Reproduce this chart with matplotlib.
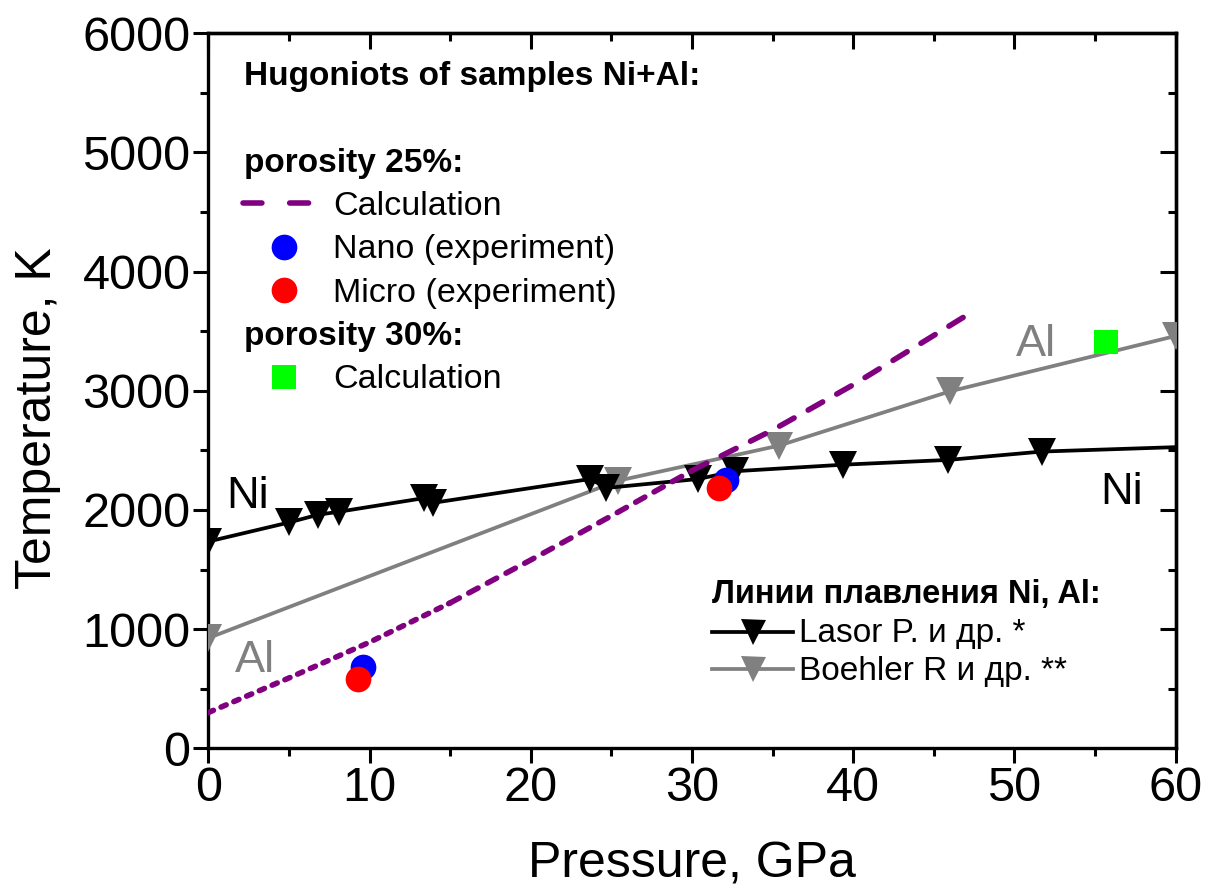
import matplotlib
matplotlib.use("Agg")
import matplotlib.pyplot as plt
from matplotlib.lines import Line2D
import numpy as np

plt.rcParams['font.family'] = ['Liberation Sans', 'DejaVu Sans']

# ---------------- data ----------------
# Hugoniot calculation, porosity 25 %
calc25_P = [0, 5, 10, 15, 20, 25, 30, 35, 40, 47]
calc25_T = [300, 590, 890, 1220, 1580, 1950, 2330, 2670, 3050, 3630]
# experiments
nano_P = [9.6, 32.1]
nano_T = [685, 2255]
micro_P = [9.3, 31.7]
micro_T = [580, 2185]
# Calculation, porosity 30 %
calc30_P = [55.7]
calc30_T = [3410]
# melting line Ni (Lasor et al.)
ni_P = [0, 5.0, 6.8, 8.1, 13.4, 13.95, 23.7, 24.7, 30.4, 32.65, 39.4, 45.9, 51.7, 64]
ni_T = [1735, 1895, 1960, 1985, 2100, 2060, 2260, 2185, 2260, 2325, 2380, 2420, 2490, 2545]
# melting line Al (Boehler et al.)
al_P = [0, 25.4, 35.4, 46.0, 60]
al_T = [925, 2245, 2540, 2995, 3460]

xticks = [0, 10, 20, 30, 40, 50, 60]
yticks = [0, 1000, 2000, 3000, 4000, 5000, 6000]

# ---------------- figure ----------------
W, H = 1205, 893
fig = plt.figure(figsize=(W / 100, H / 100), dpi=100)
L, R, T, B = 208.3, 1175.5, 33.3, 748.3
ax = fig.add_axes([L / W, 1 - B / H, (R - L) / W, (B - T) / H])
ax.set_xlim(0, 60)
ax.set_ylim(0, 6000)

def A(px, py):
    """pixel -> axes fraction"""
    return (px - L) / (R - L), (B - py) / (B - T)

ms_tri = 20
lw_mel = 2.7
# Al melting line (grey)
ax.plot(al_P, al_T, color='#808080', lw=lw_mel, marker='v', ms=ms_tri,
        mew=0, zorder=3)
# Ni melting line (black)
ax.plot(ni_P, ni_T, color='black', lw=lw_mel, marker='v', ms=ms_tri,
        mew=0, zorder=4)

# calc 25% dashed purple, dash pattern gets longer along the curve
purple = '#800080'
lw_p = 4.0
segs = [(0, 3, (1.0, 1.5)), (3, 6, (1.9, 1.9)), (6, 9, (3.0, 2.9))]
for i0, i1, dsh in segs:
    ax.plot(calc25_P[i0:i1 + 1], calc25_T[i0:i1 + 1],
            color=purple, lw=lw_p, ls=(0, dsh), dash_capstyle='round',
            zorder=5)

ax.plot(nano_P, nano_T, 'o', color='#0000FF', ms=18.5, mew=0, zorder=6)
ax.plot(micro_P, micro_T, 'o', color='#FF0000', ms=18.5, mew=0, zorder=7)
ax.plot(calc30_P, calc30_T, 's', color='#00FF00', ms=17, mew=0, zorder=7)

# ---------------- axes styling ----------------
for s in ax.spines.values():
    s.set_linewidth(2.4)
ax.set_xticks(xticks)
ax.set_yticks(yticks)
ax.set_xticks(np.arange(5, 60, 10), minor=True)
ax.set_yticks(np.arange(500, 6000, 1000), minor=True)
ax.tick_params(which='both', direction='out', width=2.2, labelsize=35,
               top=False, right=False, pad=2)
ax.tick_params(which='major', length=10.8)
ax.tick_params(which='minor', length=5.8)

axt = ax.secondary_xaxis('top')
axt.set_xticks(xticks)
axt.set_xticks(np.arange(5, 60, 10), minor=True)
axt.tick_params(which='both', direction='in', width=2.2, labeltop=False)
axt.tick_params(which='major', length=11.5)
axt.tick_params(which='minor', length=5.8)
axt.spines['top'].set_linewidth(2.4)
axr = ax.secondary_yaxis('right')
axr.set_yticks(yticks)
axr.set_yticks(np.arange(500, 6000, 1000), minor=True)
axr.tick_params(which='both', direction='in', width=2.2, labelright=False)
axr.tick_params(which='major', length=11.5)
axr.tick_params(which='minor', length=5.8)
axr.spines['right'].set_linewidth(2.4)

fig.text(692 / W, 1 - 865 / H, 'Pressure, GPa', fontsize=36,
         ha='center', va='center')
fig.text(38 / W, 1 - 418 / H, 'Temperature, K', fontsize=36, rotation=90,
         ha='center', va='center')

# curve labels
ax.text(*A(226.7, 508), 'Ni', transform=ax.transAxes, fontsize=32.5,
        ha='left', va='baseline')
ax.text(*A(1100, 504), 'Ni', transform=ax.transAxes, fontsize=32.5,
        ha='left', va='baseline')
ax.text(*A(235, 672), 'Al', transform=ax.transAxes, fontsize=32.5,
        color='#808080', ha='left', va='baseline')
ax.text(*A(1016, 356), 'Al', transform=ax.transAxes, fontsize=32.5,
        color='#808080', ha='left', va='baseline')

# ---------------- legend 1 (manual) ----------------
fb, fr = 24, 24.5
def txt(px, py, s, bold=False, size=None):
    ax.text(*A(px, py), s, transform=ax.transAxes,
            fontsize=size if size else (fb if bold else fr),
            fontweight='bold' if bold else 'normal', ha='left', va='baseline')

txt(244, 85, 'Hugoniots of samples Ni+Al:', bold=True)
txt(244, 172, 'porosity 25%:', bold=True)
txt(333, 215, 'Calculation')
txt(333, 258, 'Nano (experiment)')
txt(333, 302, 'Micro (experiment)')
txt(244, 345, 'porosity 30%:', bold=True)
txt(333, 388, 'Calculation')

x0, y0 = A(243, 203)
x1, _ = A(310, 203)
ax.add_line(Line2D([x0, x1], [y0, y0], transform=ax.transAxes, color=purple,
                   lw=lw_p, ls=(0, (3.4, 5.0)), dash_capstyle='round'))
for py, c, m, s in [(247, '#0000FF', 'o', 18.5), (290, '#FF0000', 'o', 18.5),
                    (377, '#00FF00', 's', 17)]:
    xx, yy = A(283.5, py)
    ax.add_line(Line2D([xx], [yy], transform=ax.transAxes, marker=m, ms=s,
                       color=c, mew=0, ls='none'))

# ---------------- legend 2 (manual) ----------------
txt(711.7, 603, 'Линии плавления Ni, Al:', bold=True, size=23.5)
txt(799, 642, 'Lasor P. и др. *', size=24)
txt(799, 680, 'Boehler R и др. **', size=24)
for py, c in [(631.7, 'black'), (669.3, '#808080')]:
    xa, yy = A(711.7, py)
    xb, _ = A(793, py)
    xm, _ = A(753, py)
    ax.add_line(Line2D([xa, xb], [yy, yy], transform=ax.transAxes, color=c,
                       lw=lw_mel))
    ax.add_line(Line2D([xm], [yy], transform=ax.transAxes, marker='v',
                       ms=18, color=c, mew=0, ls='none'))

fig.savefig('out.png', dpi=100)
